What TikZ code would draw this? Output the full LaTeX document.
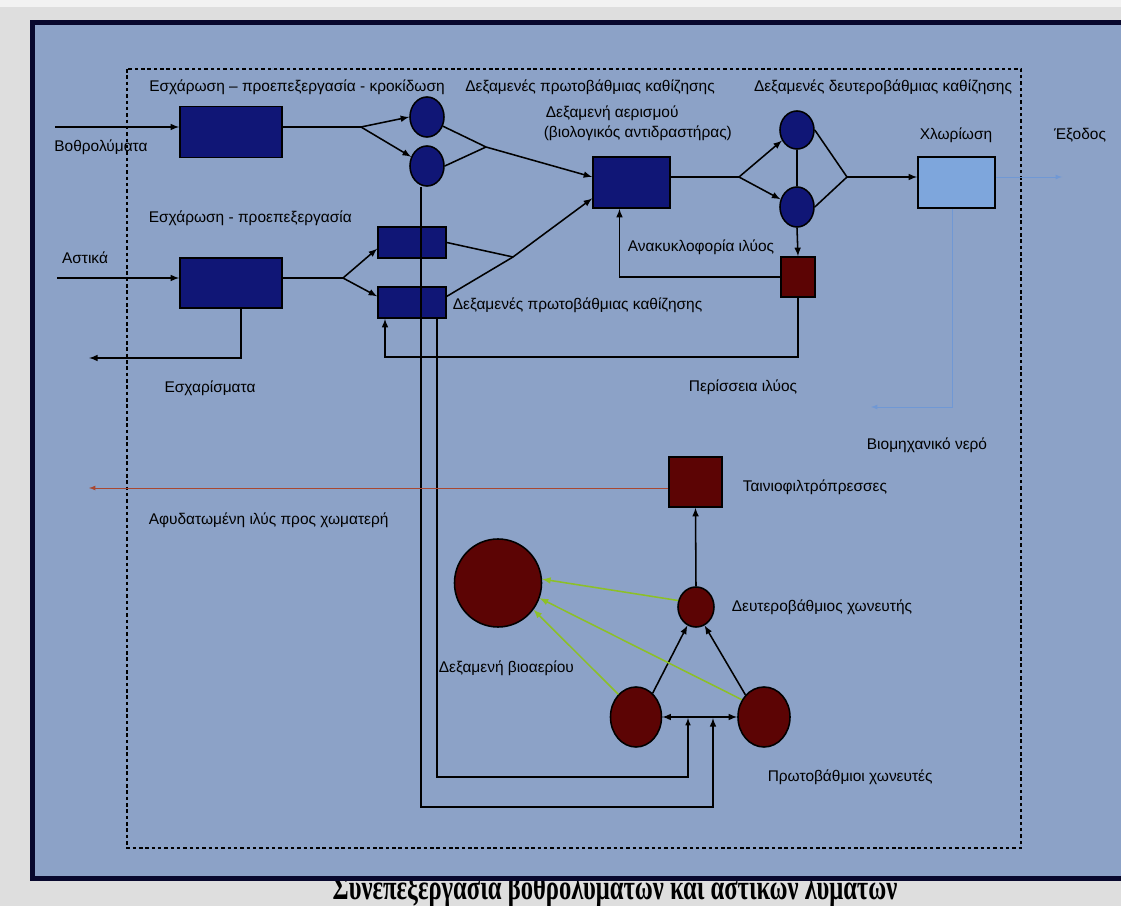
\documentclass[tikz,border=0pt]{standalone}
\usepackage{fontspec}
\setmainfont{Liberation Sans}
\newfontfamily\capfont{Liberation Serif}
\usetikzlibrary{arrows, positioning, shapes.geometric}
\definecolor{panel}{RGB}{140,162,199}
\definecolor{framec}{RGB}{8,8,45}
\definecolor{navy}{RGB}{16,22,118}
\definecolor{maroon}{RGB}{92,4,4}
\definecolor{chlor}{RGB}{126,166,220}
\definecolor{water}{RGB}{112,152,212}
\definecolor{cake}{RGB}{168,72,50}
\definecolor{gas}{RGB}{140,192,40}
\definecolor{page}{RGB}{222,222,222}

\begin{document}
\begin{tikzpicture}[x=0.025cm, y=-0.025cm, >=latex, line width=1.1pt,
    tank/.style={draw, line width=1.1pt, fill=navy, inner sep=0pt},
    disc/.style={ellipse, draw, line width=1.1pt, inner sep=0pt, minimum width=0.85cm, minimum height=1cm},
    lbl/.style={font=\fontsize{11}{13}\selectfont, inner sep=0pt},
    thin/.style={line width=0.6pt}]
    \clip (0,0) rectangle (1121,906);
    \fill[page] (0,0) rectangle (1121,906);
    \fill[white!60!page] (0,0) rectangle (1121,7);
    \node[anchor=base, inner sep=0pt, font=\capfont\bfseries\fontsize{25}{27}\selectfont] (cap) at (615,899) {\scalebox{0.7}[1]{Συνεπεξεργασια βοθρολυματων και αστικων λυματων}};
    \draw[framec, line width=3.6pt, fill=panel] (32.5,22.5) rectangle (1140,878.5);
    \draw[line width=0.9pt, dash pattern=on 2.5pt off 2pt] (127,69) rectangle (1021,848);

    \draw (231,132) node[tank, minimum width=2.55cm, minimum height=1.275cm] (bx1) {}
        (231,283) node[tank, minimum width=2.55cm, minimum height=1.25cm] (bx2) {}
        (427,117) node[disc, fill=navy] (c1) {}
        (427,166) node[disc, fill=navy] (c2) {}
        (412,242.5) node[tank, minimum width=1.7cm, minimum height=0.775cm] (r1) {}
        (412,302.5) node[tank, minimum width=1.7cm, minimum height=0.775cm] (r2) {}
        (631.5,182.5) node[tank, minimum width=1.925cm, minimum height=1.275cm] (aer) {}
        (797,130) node[disc, fill=navy, minimum height=0.95cm] (s1) {}
        (797,207) node[disc, fill=navy] (s2) {}
        (956.5,182.5) node[tank, fill=chlor, minimum width=1.925cm, minimum height=1.275cm] (chl) {}
        (798,277) node[tank, fill=maroon, minimum width=0.85cm, minimum height=1cm] (sl) {}
        (695.5,482) node[tank, fill=maroon, minimum width=1.325cm, minimum height=1.25cm] (bp) {}
        (498,583) node[disc, fill=maroon, minimum width=2.175cm, minimum height=2.2cm] (bg) {}
        (696,607) node[disc, fill=maroon, minimum width=0.9cm] (d2) {}
        (636,717) node[disc, fill=maroon, minimum width=1.275cm, minimum height=1.5cm] (p1) {}
        (764,717) node[disc, fill=maroon, minimum width=1.3cm, minimum height=1.5cm] (p2) {};

    \coordinate (in1) at (55,127);
    \coordinate (j1) at (361,127);
    \coordinate (j2) at (486,147);
    \coordinate (in2) at (57,278);
    \coordinate (j3) at (343,278);
    \coordinate (j4) at (513,257);
    \coordinate (j5) at (739,177);
    \coordinate (j6) at (847,177);
    \coordinate (out) at (1062,177);
    \coordinate (scr) at (89,358);
    \coordinate (ex) at (385,357);
    \coordinate (iw) at (871,407);
    \coordinate (dw) at (89,488);
    \coordinate (lp1) at (421,807);
    \coordinate (lp2) at (437,777);
    \coordinate (pin1) at (688,718);
    \coordinate (pin2) at (713,718);

    \draw[->] (in1) -- (in1 -| bx1.west);
    \draw (bx1.east |- j1) -- (j1);
    \draw[->] (j1) -- (c1.west);
    \draw[->] (j1) -- (c2.150);
    \draw[->] (c1.-30) -- (j2) -- (aer.172);
    \draw (c2.east) -- (j2);
    \draw[->] (in2) -- (in2 -| bx2.west);
    \draw (bx2.east |- j3) -- (j3);
    \draw[->] (j3) -- (r1.190);
    \draw[->] (j3) -- (r2.170);
    \draw (r1.east) -- (j4);
    \draw[->] (r2.10) -- (j4) -- (aer.202);
    \draw[->] ([xshift=0.25cm]bx2.south) |- (scr);
    \draw[->] (c2.south -| lp1) -- (lp1) -| (pin2);
    \draw[->, line width=0.8pt] (r2.south -| lp2) -- (lp2) -| (pin1);
    \draw (aer.east |- j5) -- (j5);
    \draw[->] (j5) -- (s1.215);
    \draw[->] (j5) -- (s2.155);
    \draw (s1.south) -- (s2.north);
    \draw (s1.east) -- (j6);
    \draw (s2.east) -- (j6);
    \draw[->] (j6) -- (j6 -| chl.west);
    \draw[->, water, thin] (chl.east |- j6) -- (out);
    \draw[->, water, thin] ([xshift=-0.1cm]chl.south) |- (iw);
    \draw[->] (s2.south) -- (sl.north);
    \draw[->] (sl.west) -| ([xshift=-0.3cm]aer.south);
    \draw[->] (sl.south) |- (ex) -- (ex |- r2.south);
    \draw[->, cake, thin] (bp.west |- dw) -- (dw);
    \draw[->] (d2.north) -- (bp.south);
    \draw[->] (p1.55) -- (d2.245);
    \draw[->] (p2.130) -- (d2.-65);
    \draw[->, gas] (d2.160) -- (bg.5);
    \draw[->, gas] (p2.142) -- (bg.-20);
    \draw[->, gas] (p1.128) -- (bg.-37);
    \draw[<->] (p1.east) -- (p2.west);

    \node[lbl] (t1) at (297,87) {Εσχάρωση – προεπεξεργασία - κροκίδωση};
    \node[lbl] (t2) at (590,87) {Δεξαμενές πρωτοβάθμιας καθίζησης};
    \node[lbl] (t3) at (883,87) {Δεξαμενές δευτεροβάθμιας καθίζησης};
    \node[lbl, anchor=west] (t4) at (545,113) {Δεξαμενή αερισμού};
    \node[lbl, anchor=west] (t5) at (543,133) {(βιολογικός αντιδραστήρας)};
    \node[lbl] (t6) at (956,135) {Χλωρίωση};
    \node[lbl] (t7) at (1080,135) {Έξοδος};
    \node[lbl] (t8) at (101,147) {Βοθρολύματα};
    \node[lbl, anchor=west] (t9) at (148,218) {Εσχάρωση - προεπεξεργασία};
    \node[lbl] (t10) at (85,258) {Αστικά};
    \node[lbl] (t11) at (701,247) {Ανακυκλοφορία ιλύος};
    \node[lbl, anchor=west] (t12) at (452,305) {Δεξαμενές πρωτοβάθμιας καθίζησης};
    \node[lbl] (t13) at (210,388) {Εσχαρίσματα};
    \node[lbl] (t14) at (743,387) {Περίσσεια ιλύος};
    \node[lbl] (t15) at (927,445) {Βιομηχανικό νερό};
    \node[lbl, anchor=west] (t16) at (742,487) {Ταινιοφιλτρόπρεσσες};
    \node[lbl, anchor=west] (t17) at (148,520) {Αφυδατωμένη ιλύς προς χωματερή};
    \node[lbl, anchor=west] (t18) at (731,607) {Δευτεροβάθμιος χωνευτής};
    \node[lbl, anchor=west] (t19) at (438,668) {Δεξαμενή βιοαερίου};
    \node[lbl, anchor=west] (t20) at (767,777) {Πρωτοβάθμιοι χωνευτές};
\end{tikzpicture}
\end{document}
